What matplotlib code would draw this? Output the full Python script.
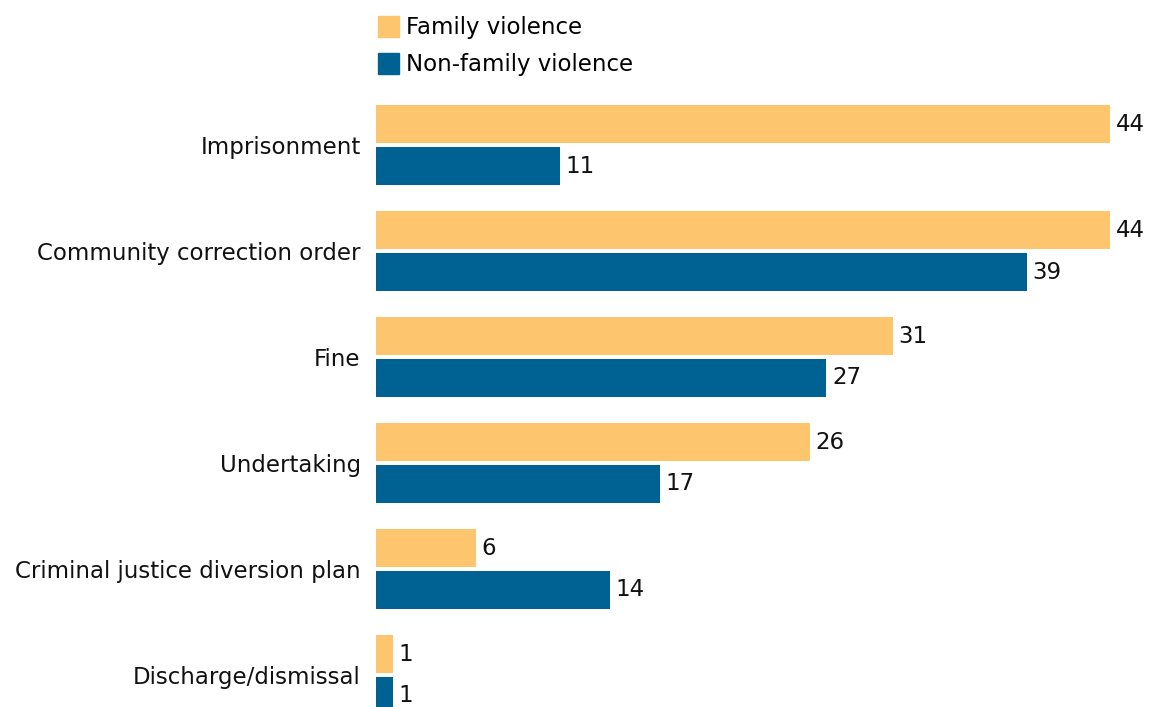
import matplotlib.pyplot as plt
import numpy as np
from matplotlib.patches import Patch

plt.rcParams['font.family'] = ['DejaVu Sans']

categories = ['Imprisonment', 'Community correction order', 'Fine',
              'Undertaking', 'Criminal justice diversion plan', 'Discharge/dismissal']
family = [44, 44, 31, 26, 6, 1]
non_family = [11, 39, 27, 17, 14, 1]

orange = '#FEC56F'
blue = '#006193'
fs = 16.5

fig = plt.figure(figsize=(11.5, 7.07), dpi=100)
ax = fig.add_axes([376 / 1150, 0, 774 / 1150, 612 / 707])

y = np.arange(len(categories))
h = 0.358
off = 0.198

b1 = ax.barh(y - off, family, height=h, color=orange)
b2 = ax.barh(y + off, non_family, height=h, color=blue)
ax.bar_label(b1, padding=4, fontsize=fs, color='#111111')
ax.bar_label(b2, padding=4, fontsize=fs, color='#111111')

ax.set_xlim(0, 774 / (734 / 44))
ax.set_ylim(5.302, -0.472)
ax.set_yticks(y)
ax.set_yticklabels(categories, fontsize=fs, color='#111111')
ax.tick_params(axis='y', length=0, pad=11)
ax.set_xticks([])
for s in ax.spines.values():
    s.set_visible(False)

handles = [Patch(color=orange), Patch(color=blue)]
fig.legend(handles, ['Family violence', 'Non-family violence'],
           loc='upper left', bbox_to_anchor=(373 / 1150, 1 - 11 / 707),
           frameon=False, fontsize=fs, handlelength=0.95, handleheight=1.05,
           handletextpad=0.3, labelspacing=0.6, borderaxespad=0,
           borderpad=0.2)

fig.savefig('out.png', dpi=100)
